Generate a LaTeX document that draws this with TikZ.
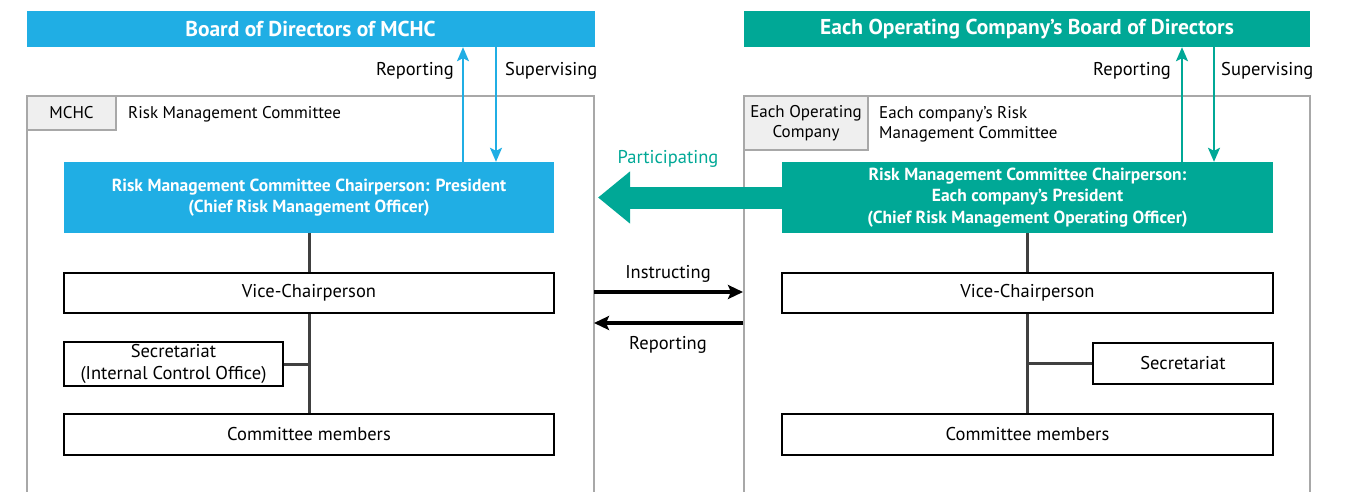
\documentclass[tikz,border=0pt]{standalone}
\usepackage{fontspec}
\setmainfont{PT Sans}
\usetikzlibrary{arrows.meta,calc}
\definecolor{mblue}{RGB}{32,174,228}
\definecolor{mteal}{RGB}{0,168,150}
\definecolor{framegray}{RGB}{168,168,168}
\definecolor{tabfill}{RGB}{239,239,239}
\definecolor{linegray}{RGB}{64,64,64}
\begin{document}
\begin{tikzpicture}[x=1pt,y=-1pt,
  header/.style={inner sep=0pt, text=white, font=\fontsize{21.5}{24}\selectfont\bfseries},
  frame/.style={draw=framegray, line width=2pt, inner sep=0pt},
  tab/.style={draw=framegray, line width=2pt, fill=tabfill, inner sep=0pt, align=center,
    font=\fontsize{17}{20}\selectfont},
  chair/.style={inner sep=0pt, text=white, align=center, font=\fontsize{17.5}{21.5}\selectfont\bfseries},
  box/.style={draw=black, line width=1.2pt, fill=white, inner sep=0pt, align=center,
    font=\fontsize{18.5}{22}\selectfont},
  lbl/.style={inner sep=0pt, font=\fontsize{18.5}{20}\selectfont},
  ttl/.style={inner sep=0pt, font=\fontsize{17}{20}\selectfont},
  conn/.style={draw=linegray, line width=3pt},
  uparr/.style={line width=2pt, -{Stealth[length=14pt,width=12pt,inset=3pt]}},
  blkarr/.style={draw=black, line width=3.5pt, -{Stealth[length=15pt,width=14pt,inset=3pt]}},
]
\useasboundingbox (0,0) rectangle (1345,491);

% boards of directors
\node[header, fill=mblue, minimum width=568pt, minimum height=36pt] (lhead) at (310.5,29) {Board of Directors of MCHC};
\node[header, fill=mteal, minimum width=566pt, minimum height=36pt] (rhead) at (1027,29) {Each Operating Company’s Board of Directors};

% committee frames (open at the bottom)
\node[frame, minimum width=567pt, minimum height=440pt] (lframe) at (310.5,316) {};
\node[frame, minimum width=566pt, minimum height=440pt] (rframe) at (1027,316) {};

% frame tabs and titles
\node[tab, minimum width=89pt, minimum height=34pt] (ltab) at (71.5,113) {MCHC};
\node[ttl, anchor=west] (ltitle) at (128,114.5) {Risk Management Committee};
\node[tab, minimum width=124pt, minimum height=54pt] (rtab) at (806,123) {Each Operating\\Company};
\node[ttl, anchor=west, align=left] (rtitle) at (879,124.5) {Each company’s Risk\\Management Committee};

% chairpersons
\node[chair, fill=mblue, minimum width=490pt, minimum height=71pt] (lchair) at (309,197.5)
  {Risk Management Committee Chairperson: President\\(Chief Risk Management Officer)};
\node[chair, fill=mteal, minimum width=491pt, minimum height=71pt] (rchair) at (1027.5,197.5)
  {Risk Management Committee Chairperson:\\Each company’s President\\(Chief Risk Management Operating Officer)};

% MCHC committee members
\node[box, minimum width=490pt, minimum height=40pt] (lvice) at (309,293) {Vice-Chairperson};
\node[box, minimum width=219pt, minimum height=44pt] (lsec) at (173.5,364) {Secretariat\\(Internal Control Office)};
\node[box, minimum width=490pt, minimum height=41pt] (lcomm) at (309,434.5) {Committee members};

% operating company committee members
\node[box, minimum width=491pt, minimum height=40pt] (rvice) at (1027.5,293) {Vice-Chairperson};
\node[box, minimum width=180pt, minimum height=41pt] (rsec) at (1183,363.5) {Secretariat};
\node[box, minimum width=491pt, minimum height=41pt] (rcomm) at (1027.5,434.5) {Committee members};

% hierarchy lines
\draw[conn] (lchair.south) -- (lvice.north);
\draw[conn] (lvice.south) -- (lcomm.north);
\draw[conn] (lsec.east) -- (lsec.east -| lvice.south);
\draw[conn] (rchair.south -| rvice.north) -- (rvice.north);
\draw[conn] (rvice.south) -- (rcomm.north);
\draw[conn] (rsec.west) -- (rsec.west -| rvice.south);

% reporting / supervising with the boards
\coordinate (lup) at (463,0);
\coordinate (ldown) at (496,0);
\coordinate (rup) at (1182,0);
\coordinate (rdown) at (1214,0);
\draw[uparr, mblue] (lchair.north -| lup) -- (lhead.south -| lup);
\draw[uparr, mblue] (lhead.south -| ldown) -- (lchair.north -| ldown);
\draw[uparr, mteal] (rchair.north -| rup) -- (rhead.south -| rup);
\draw[uparr, mteal] (rhead.south -| rdown) -- (rchair.north -| rdown);
\node[lbl, anchor=east] (lrep) at (454,71) {Reporting};
\node[lbl, anchor=west] (lsup) at (505,71) {Supervising};
\node[lbl, anchor=east] (rrep) at (1171,71) {Reporting};
\node[lbl, anchor=west] (rsup) at (1221,71) {Supervising};

% participating arrow
\draw[mteal, line width=22pt, -{Triangle[length=32pt,width=50pt]}]
  (rchair.west) -- ($(lframe.east |- rchair.west)+(3,0)$);
\node[lbl, text=mteal] (part) at (668,159) {Participating};

% instructing / reporting between committees
\coordinate (insL) at (594,292);
\coordinate (repL) at (594,323);
\draw[blkarr] (insL) -- (rframe.west |- insL);
\draw[blkarr] (rframe.west |- repL) -- (repL);
\node[lbl] (ins) at (668,274) {Instructing};
\node[lbl] (rep) at (668,345) {Reporting};
\end{tikzpicture}
\end{document}
